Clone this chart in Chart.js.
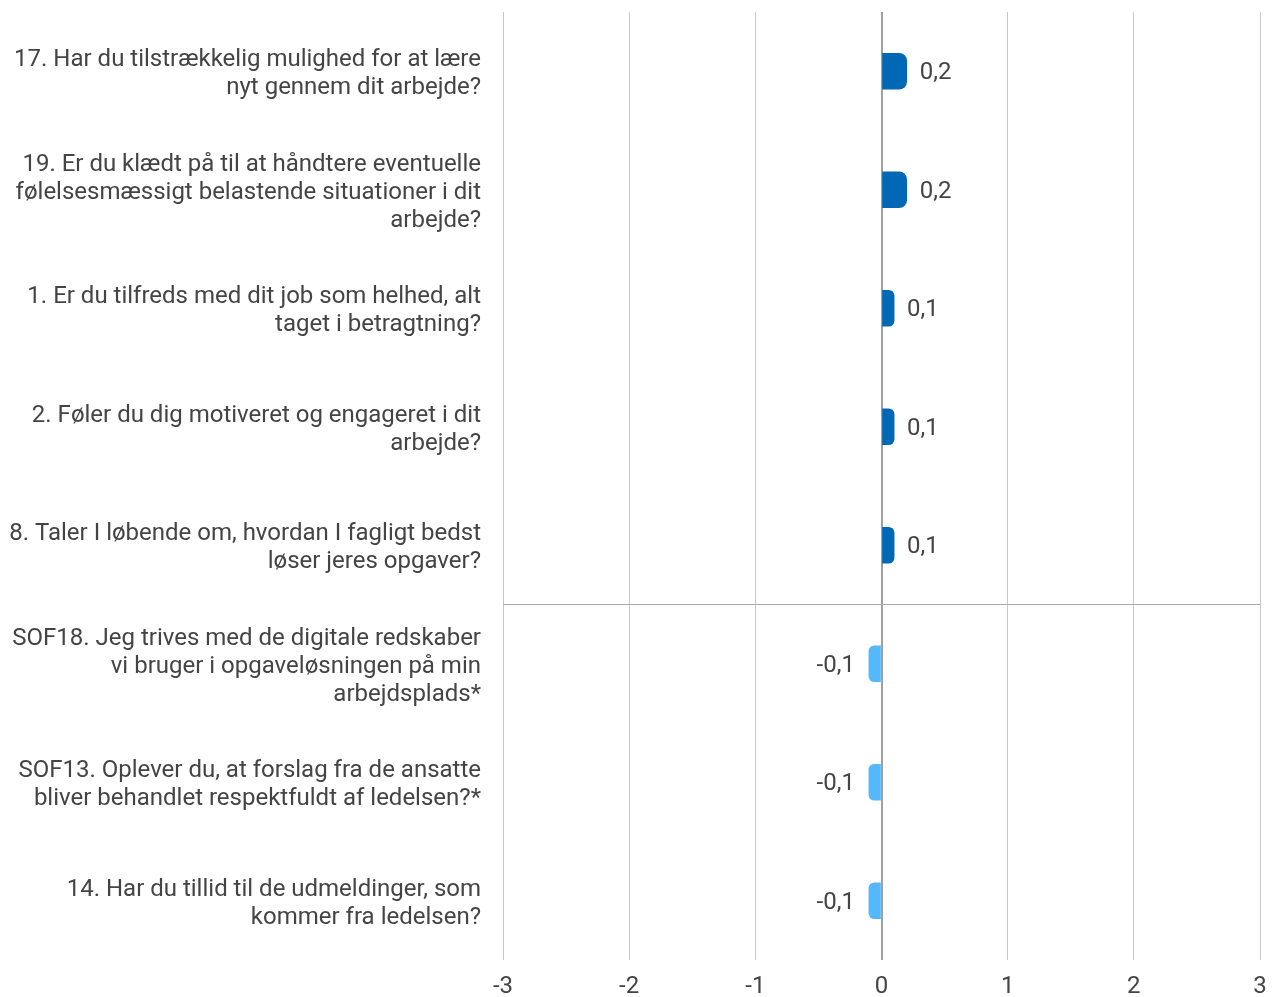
<!DOCTYPE html>
<html><head><meta charset="utf-8">
<script src="https://cdn.jsdelivr.net/npm/chart.js@4/dist/chart.umd.min.js"></script>
<style>html,body{margin:0;padding:0;background:#fff}#wrap{width:1273px;height:997px}</style>
</head><body><div id="wrap"><canvas id="c"></canvas></div>
<script>
const categories = [
  ["17. Har du tilstrækkelig mulighed for at lære", "nyt gennem dit arbejde?"],
  ["19. Er du klædt på til at håndtere eventuelle", "følelsesmæssigt belastende situationer i dit", "arbejde?"],
  ["1. Er du tilfreds med dit job som helhed, alt", "taget i betragtning?"],
  ["2. Føler du dig motiveret og engageret i dit", "arbejde?"],
  ["8. Taler I løbende om, hvordan I fagligt bedst", "løser jeres opgaver?"],
  ["SOF18. Jeg trives med de digitale redskaber", "vi bruger i opgaveløsningen på min", "arbejdsplads*"],
  ["SOF13. Oplever du, at forslag fra de ansatte", "bliver behandlet respektfuldt af ledelsen?*"],
  ["14. Har du tillid til de udmeldinger, som", "kommer fra ledelsen?"]
];
const values = [0.2, 0.2, 0.1, 0.1, 0.1, -0.1, -0.1, -0.1];
const valueLabels = ["0,2", "0,2", "0,1", "0,1", "0,1", "-0,1", "-0,1", "-0,1"];
const xTicks = [-3, -2, -1, 0, 1, 2, 3];
const separatorIndex = 5;

const POS = '#0068b5', NEG = '#55b8fa', TXT = '#444444';
const FONT = 'Roboto, "Noto Sans", sans-serif';

const labelPlugin = {
  id: 'vlabels',
  afterDatasetsDraw(chart) {
    const ctx = chart.ctx;
    const meta = chart.getDatasetMeta(0);
    ctx.save();
    ctx.font = '24px ' + FONT;
    ctx.fillStyle = TXT;
    ctx.textBaseline = 'middle';
    meta.data.forEach((bar, i) => {
      const v = values[i];
      if (v >= 0) { ctx.textAlign = 'left'; ctx.fillText(valueLabels[i], bar.x + 13, bar.y + 2); }
      else { ctx.textAlign = 'right'; ctx.fillText(valueLabels[i], bar.x - 14, bar.y + 2); }
    });
    ctx.restore();
  }
};

new Chart(document.getElementById('c'), {
  type: 'bar',
  data: {
    labels: categories,
    datasets: [{
      data: values,
      backgroundColor: values.map(v => v >= 0 ? POS : NEG),
      borderRadius: 8,
      borderSkipped: 'start',
      barThickness: 36
    }]
  },
  options: {
    indexAxis: 'y',
    responsive: true,
    maintainAspectRatio: false,
    animation: false,
    layout: { padding: { top: 12, right: 13, left: 0, bottom: 0 } },
    plugins: { legend: { display: false }, tooltip: { enabled: false } },
    scales: {
      x: {
        min: -3, max: 3,
        afterBuildTicks(axis) { axis.ticks = xTicks.map(v => ({ value: v })); },
        afterFit(axis) { axis.paddingLeft = 0; axis.paddingRight = 0; axis.height = 37; },
        grid: {
          drawTicks: false,
          color: c => (c.tick && c.tick.value === 0) ? '#a0a0a0' : '#c8c8c8',
          lineWidth: c => (c.tick && c.tick.value === 0) ? 2 : 1
        },
        border: { display: false },
        ticks: { padding: 15, color: TXT, font: { family: FONT, size: 24, lineHeight: 1 } }
      },
      y: {
        afterFit(axis) { axis.width = 503; axis.paddingTop = 0; axis.paddingBottom = 0; },
        grid: {
          drawTicks: false,
          offset: true,
          color: c => c.index === separatorIndex ? '#aaaaaa' : 'rgba(0,0,0,0)',
          lineWidth: 1
        },
        border: { display: false },
        ticks: { padding: 22, labelOffset: 3, color: TXT, font: { family: FONT, size: 24, lineHeight: 1.1667 } }
      }
    }
  },
  plugins: [labelPlugin]
});
</script>
</body></html>
